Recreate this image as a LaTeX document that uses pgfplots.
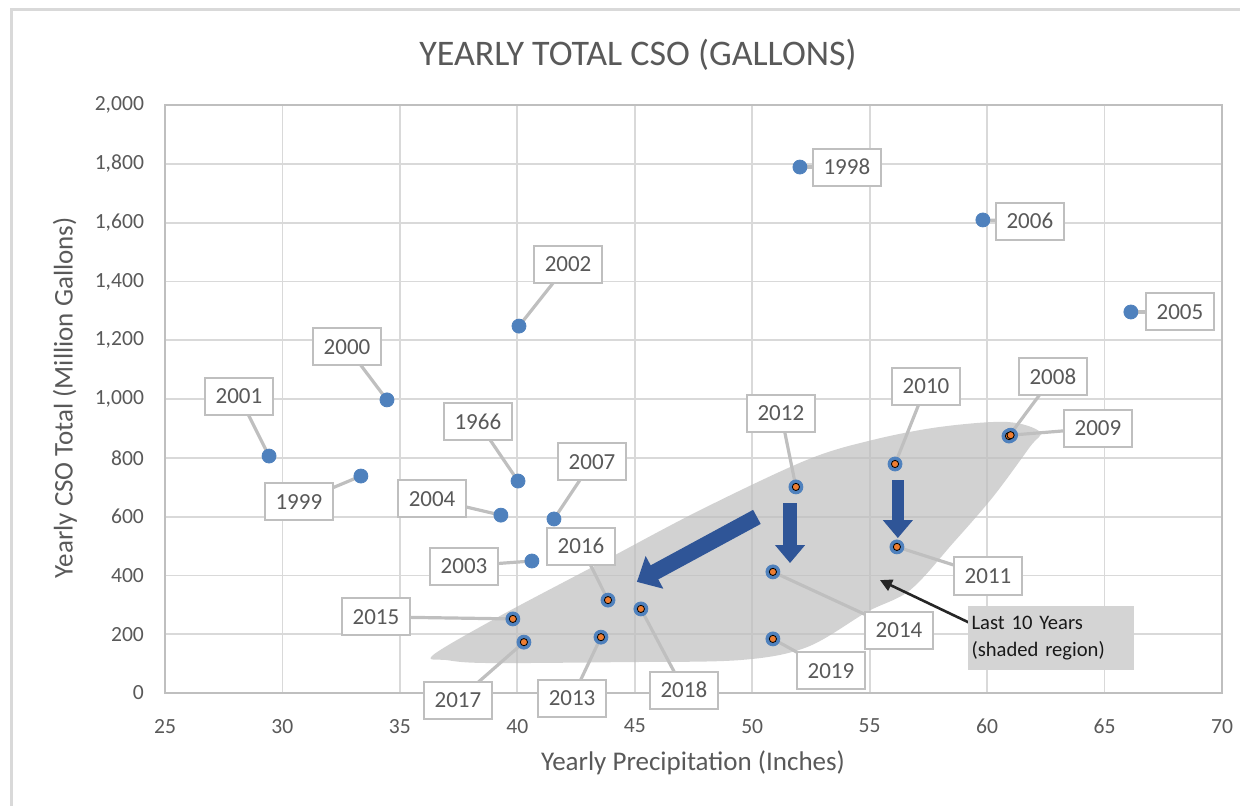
\documentclass[border=0pt]{standalone}
\usepackage{pgfplots}
\pgfplotsset{compat=1.18}
\usepackage{fontspec}
\setmainfont{Carlito}
\usetikzlibrary{arrows.meta}
\definecolor{txt}{HTML}{595959}
\definecolor{gridc}{HTML}{D9D9D9}
\definecolor{boxc}{HTML}{BFBFBF}
\definecolor{mblue}{HTML}{4F81BD}
\definecolor{morange}{HTML}{ED7D31}
\definecolor{ablue}{HTML}{2F5597}
\tikzset{cbox/.style={draw=boxc, line width=1pt, fill=white, text=txt, font=\fontsize{11.5}{13}\selectfont, minimum width=34pt, minimum height=18.5pt, inner sep=0pt}}
\newcommand{\callout}[5]{%
  \draw[boxc, line width=1.6pt] (axis cs:#1,#2) -- (axis cs:#3,#4);
  \node[cbox] at (axis cs:#3,#4) {#5};}
\begin{document}
\begin{tikzpicture}
\path[use as bounding box] (-82.5pt,-56pt) rectangle (537.5pt,346.5pt);
\draw[gridc, line width=1.5pt] (-76.5pt,-60pt) -- (-76.5pt,341.5pt) -- (540pt,341.5pt);
\begin{axis}[
  scale only axis, width=528.5pt, height=294pt,
  xmin=25, xmax=70, ymin=0, ymax=2000,
  xtick={25,30,...,70}, ytick={0,200,...,2000},
  grid=major, major grid style={gridc, line width=0.9pt},
  axis line style={boxc, line width=0.9pt},
  tick style={draw=none},
  clip=false,
  /pgf/number format/assume math mode=true,
  /pgf/number format/1000 sep={,},
  ticklabel style={font=\fontsize{10.8}{12}\selectfont, text=txt},
  xticklabel style={yshift=-9.5pt},
  yticklabel style={xshift=-7pt},
  title={YEARLY TOTAL CSO (GALLONS)},
  title style={at={(axis description cs:0.4475,1.085)}, anchor=center, yshift=-6pt, font=\fontsize{18}{20}\selectfont, text=txt},
  xlabel={Yearly Precipitation (Inches)},
  xlabel style={at={(axis description cs:0.4995,-0.119)}, anchor=center, font=\fontsize{13.5}{15}\selectfont, text=txt},
  ylabel={Yearly CSO Total (Million Gallons)},
  ylabel style={at={(axis description cs:-0.0946,0.502)}, anchor=center, font=\fontsize{13.5}{15}\selectfont, text=txt},
]
% shaded region
\addplot[draw=none, fill=black!25, fill opacity=0.7, smooth cycle, tension=0.55] coordinates {
 (36.41,129) (39.26,262) (43.52,442) (47.78,622) (52.33,793) (55.14,861) (57.99,905) (60.84,922) (62.25,888)
 (61.82,837) (60.25,667) (58.55,510) (56.72,350) (54.89,276) (52.33,156) (49.48,112) (44.37,105) (38.71,102) (37.0,112)};
% callouts
\callout{52.03}{1789}{54.03}{1789}{1998}
\callout{59.82}{1609}{61.82}{1605}{2006}
\callout{66.12}{1296}{68.21}{1296}{2005}
\callout{40.07}{1248}{42.16}{1459}{2002}
\callout{34.45}{997}{32.75}{1177}{2000}
\callout{29.43}{806}{28.15}{1010}{2001}
\callout{33.34}{738}{30.70}{650}{1999}
\callout{40.03}{721}{38.32}{922}{1966}
\callout{39.30}{605}{36.37}{660}{2004}
\callout{41.56}{592}{43.18}{786}{2007}
\callout{40.62}{449}{37.73}{432}{2003}
\callout{51.86}{701}{51.22}{952}{2012}
\callout{56.08}{779}{57.40}{1044}{2010}
\callout{60.93}{874}{62.80}{1075}{2008}
\callout{61.00}{877}{64.72}{901}{2009}
\callout{56.16}{497}{60.04}{398}{2011}
\callout{50.88}{412}{56.25}{214}{2014}
\callout{43.86}{316}{42.71}{500}{2016}
\callout{45.26}{286}{47.09}{10}{2018}
\callout{39.81}{252}{33.98}{259}{2015}
\callout{43.56}{190}{42.33}{-17}{2013}
\callout{40.28}{173}{37.47}{-24}{2017}
\callout{50.88}{184}{53.35}{75}{2019}
% older years
\addplot[only marks, mark=*, mark size=3.5pt, mark options={draw=mblue, fill=mblue}] coordinates {
 (52.03,1789) (59.82,1609) (66.12,1296) (40.07,1248) (34.45,997) (29.43,806)
 (33.34,738) (40.03,721) (39.30,605) (41.56,592) (40.62,449)};
% last 10 years
\addplot[only marks, mark=*, mark size=3.5pt, mark options={draw=mblue, fill=mblue}] coordinates {
 (51.86,701) (56.08,779) (60.93,874) (61.00,877) (56.16,497) (50.88,412)
 (43.86,316) (45.26,286) (39.81,252) (43.56,190) (40.28,173) (50.88,184)};
\addplot[only marks, mark=*, mark size=1.8pt, mark options={draw=none, fill=morange}] coordinates {
 (51.86,701) (56.08,779) (60.93,874) (61.00,877) (56.16,497) (50.88,412)
 (43.86,316) (45.26,286) (39.81,252) (43.56,190) (40.28,173) (50.88,184)};
% block arrows
\draw[ablue, line width=8pt, -{Triangle[width=18pt,length=10pt]}] (axis cs:50.20,599) -- (axis cs:45.09,378);
\draw[ablue, line width=7pt, -{Triangle[width=14.5pt,length=9pt]}] (axis cs:51.61,646) -- (axis cs:51.61,442);
\draw[ablue, line width=6pt, -{Triangle[width=14.5pt,length=9pt]}] (axis cs:56.20,724) -- (axis cs:56.20,527);
% note
\draw[black!85, line width=1.3pt, -{Triangle[width=6pt,length=6pt]}] (axis cs:59.27,238) -- (axis cs:55.44,384);
\node[fill=black!17, text=black!90, font=\fontsize{10.3}{13.5}\selectfont, align=left, text width=79pt, inner xsep=2pt, minimum height=32pt, anchor=center] at (axis cs:62.70,187) {Last 10 Years\\(shaded region)};
\end{axis}
\end{tikzpicture}
\end{document}
